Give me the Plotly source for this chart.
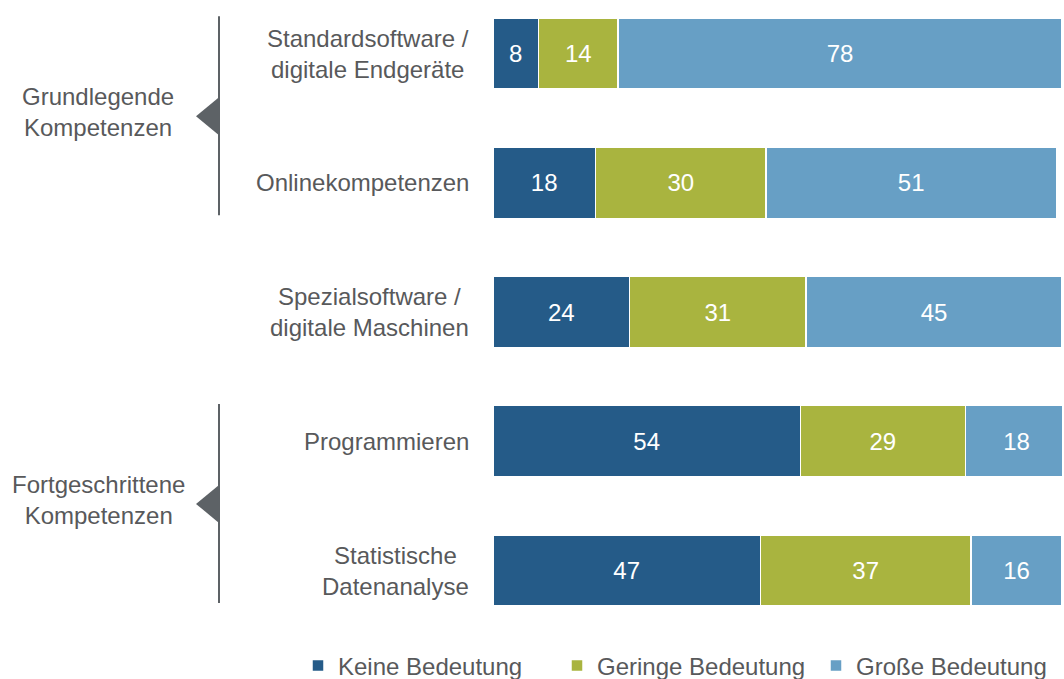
import plotly.graph_objects as go

# ---------------- data ----------------
categories = [
    "Standardsoftware /<br>digitale Endgeräte",
    "Onlinekompetenzen",
    "Spezialsoftware /<br>digitale Maschinen",
    "Programmieren",
    "Statistische<br>Datenanalyse",
]
series_names = ["Keine Bedeutung", "Geringe Bedeutung", "Große Bedeutung"]
keine = [8, 18, 24, 54, 47]
geringe = [14, 30, 31, 29, 37]
grosse = [78, 51, 45, 18, 16]
groups = ["Grundlegende<br>Kompetenzen", "Fortgeschrittene<br>Kompetenzen"]
group_members = [[0, 1], [3, 4]]

# ---------------- style ----------------
colors = ["#255b88", "#a9b43f", "#679fc5"]
text_color = "#58595b"
bracket_color = "#5d6266"
font_family = "Liberation Sans, Arial, sans-serif"
FS = 24
W, H = 1064, 679
ML, MR, MT, MB = 493, 2, 0, 49
PW, PH = W - ML - MR, H - MT - MB


def px_x(px):
    return (px - ML) / PW


def px_y(py):
    return 1 - (py - MT) / PH


fig = go.Figure()
for name, vals, col in zip(series_names, [keine, geringe, grosse], colors):
    fig.add_trace(go.Bar(
        y=categories, x=vals, name=name, orientation="h",
        marker=dict(color=col, line=dict(color="white", width=1.5)),
        text=[str(v) for v in vals], textposition="inside",
        insidetextanchor="middle",
        textfont=dict(color="white", size=FS, family=font_family),
        width=0.55, hoverinfo="skip",
    ))

# category labels
for c in categories:
    fig.add_annotation(
        x=px_x(471), xref="paper", y=c, yref="y", text=c, showarrow=False,
        xanchor="right", yanchor="middle", align="center",
        font=dict(size=FS, color=text_color, family=font_family),
    )

# group brackets
row0_px, pitch = 53.5, 129.25
shapes = []
for g, members in zip(groups, group_members):
    center_idx = sum(members) / len(members)
    cy = row0_px + center_idx * pitch - 2
    top, bot = cy - 100, cy + 99
    shapes.append(dict(type="line", xref="paper", yref="paper",
                       x0=px_x(219), x1=px_x(219), y0=px_y(top), y1=px_y(bot),
                       line=dict(color=bracket_color, width=2)))
    path = "M {} {} L {} {} L {} {} Z".format(
        px_x(196), px_y(cy), px_x(219), px_y(cy - 19), px_x(219), px_y(cy + 19))
    shapes.append(dict(type="path", xref="paper", yref="paper", path=path,
                       fillcolor=bracket_color, line=dict(width=0)))
    fig.add_annotation(
        x=px_x(98), xref="paper", y=px_y(cy - 4), yref="paper", text=g,
        showarrow=False, xanchor="center", yanchor="middle", align="center",
        font=dict(size=FS, color=text_color, family=font_family),
    )

fig.update_layout(
    width=W, height=H, barmode="stack", bargap=0.45,
    margin=dict(l=ML, r=MR, t=MT, b=MB, autoexpand=False),
    plot_bgcolor="white", paper_bgcolor="white",
    shapes=shapes,
    xaxis=dict(range=[0, 100], visible=False, fixedrange=True),
    yaxis=dict(categoryorder="array", categoryarray=categories,
               range=[4 + (PH - 570.5) / pitch, -row0_px / pitch],
               visible=False, fixedrange=True),
    legend=dict(orientation="h", x=px_x(298), xanchor="left",
                y=px_y(666), yanchor="middle",
                entrywidth=214, entrywidthmode="pixels",
                font=dict(size=FS, color=text_color, family=font_family),
                traceorder="normal"),
    uniformtext=dict(minsize=FS, mode="show"),
    showlegend=True,
)

fig.write_html(
    "out.html",
    config={"displayModeBar": False},
    post_script="document.body.style.margin='0px';document.body.style.overflow='hidden';",
)
